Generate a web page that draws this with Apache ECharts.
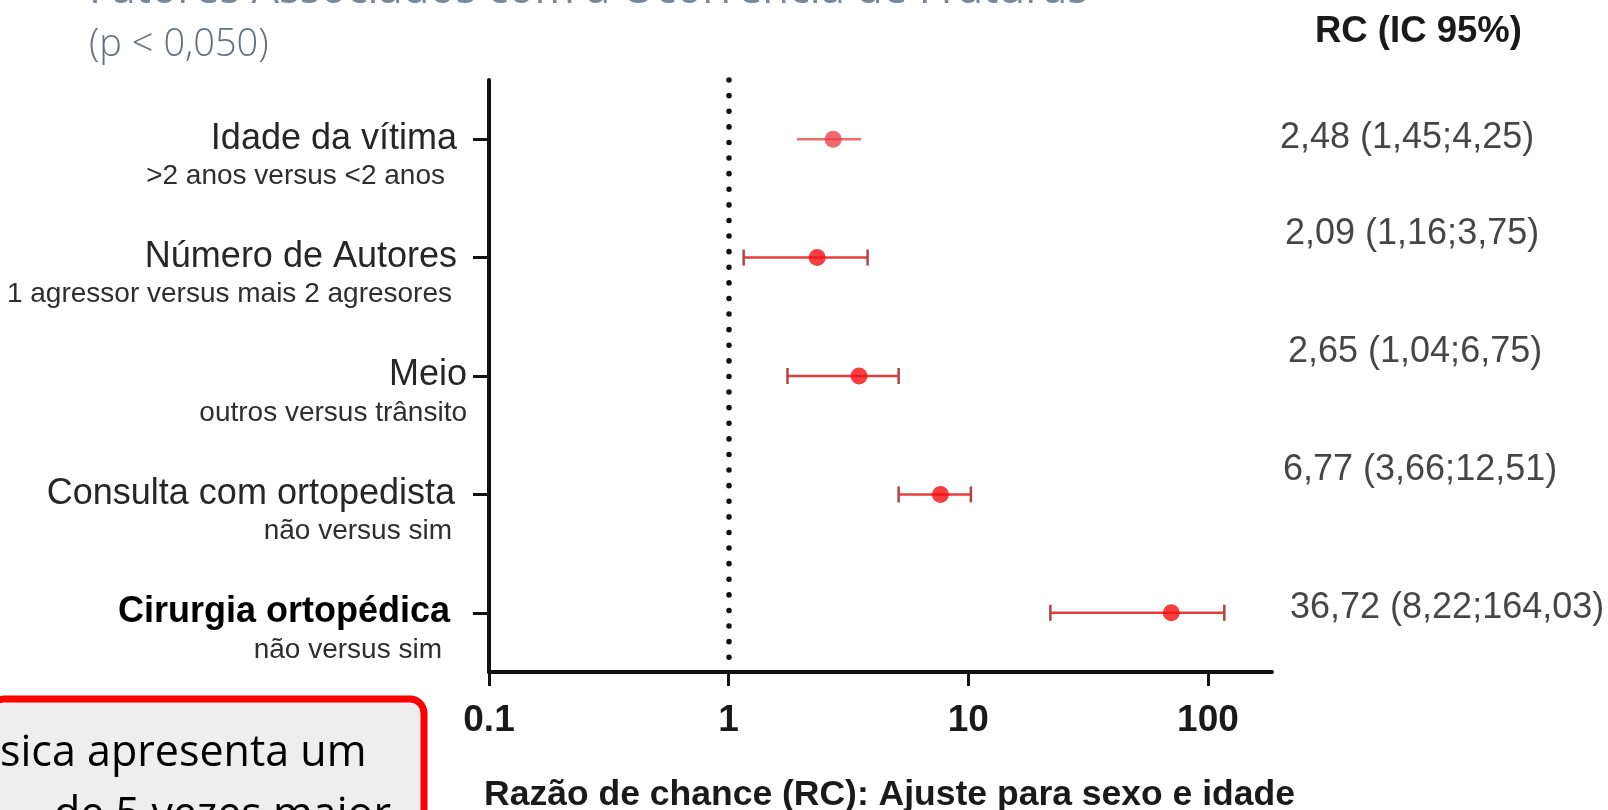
<!DOCTYPE html>
<html>
<head>
<meta charset="utf-8">
<script src="https://cdn.jsdelivr.net/npm/echarts@6/dist/echarts.min.js"></script>
<style>
html,body{margin:0;padding:0;background:#ffffff;}
#chart{width:1608px;height:810px;}
</style>
</head>
<body>
<div id="chart"></div>
<script>
// ---- data ----
const factors = ['Idade da vítima', 'Número de Autores', 'Meio', 'Consulta com ortopedista', 'Cirurgia ortopédica'];
const subLabels = ['>2 anos versus <2 anos', '1 agressor versus mais 2 agresores', 'outros versus trânsito', 'não versus sim', 'não versus sim'];
const oddsRatio = [2.73, 2.34, 3.50, 7.65, 70.3];
const ciLower = [1.93, 1.155, 1.76, 5.12, 22.0];
const ciUpper = [3.57, 3.80, 5.12, 10.25, 117];
const rcLabels = ['2,48 (1,45;4,25)', '2,09 (1,16;3,75)', '2,65 (1,04;6,75)', '6,77 (3,66;12,51)', '36,72 (8,22;164,03)'];
const xTicks = [0.1, 1, 10, 100];
const xMin = 0.1;
const xMax = 185;
const refValue = 1;
const rcHeader = 'RC (IC 95%)';
const xAxisTitle = 'Razão de chance (RC): Ajuste para sexo e idade';
const titleText = 'Fatores Associados com a Ocorrência de Fraturas';
const subtitleText = '(p < 0,050)';
const boxLines = ['sica apresenta um', 'de 5 vezes maior'];

// ---- styles (layout only) ----
const rowStyle = [
  { point: '#ec4449', line: '#ef6b6b', cap: null },
  { point: '#f50f12', line: '#e83c3c', cap: '#b04444' },
  { point: '#f50f12', line: '#e83c3c', cap: '#b04444' },
  { point: '#f50f12', line: '#e83c3c', cap: '#b04444' },
  { point: '#f50f12', line: '#e83c3c', cap: '#b04444' }
];
const mainPad = [10, 10, 0, 12, 17];
const subPad = [22, 15, 0, 15, 25];
const rcOffset = [[3, -1], [8, -24], [11, -24], [6, -24], [13, -5]];
const FONT = '"Liberation Sans", Arial, sans-serif';

const rich = {
  pad: { fontSize: 10, lineHeight: 34, align: 'right' }
};
factors.forEach((f, i) => {
  rich['m' + i] = {
    fontFamily: FONT, fontSize: 36, lineHeight: 40, align: 'right',
    color: i === 4 ? '#000000' : '#262626',
    fontWeight: i === 4 ? 'bold' : 'normal',
    padding: [0, mainPad[i], 0, 0]
  };
  rich['s' + i] = {
    fontFamily: FONT, fontSize: 28, lineHeight: 35, align: 'right',
    color: '#2e2e2e',
    padding: [0, subPad[i], 0, 0]
  };
});

const chart = echarts.init(document.getElementById('chart'), null, { renderer: 'canvas' });

const option = {
  backgroundColor: '#ffffff',
  animation: false,
  grid: { left: 489, right: 336, top: 80, bottom: 138, containLabel: false, outerBoundsMode: 'none' },
  xAxis: {
    type: 'log',
    logBase: 10,
    min: xMin,
    max: xMax,
    splitLine: { show: false },
    minorTick: { show: false },
    axisLine: { show: true, lineStyle: { color: '#111111', width: 4 } },
    axisTick: { show: true, customValues: xTicks, length: 14, lineStyle: { color: '#111111', width: 3 } },
    axisLabel: {
      customValues: xTicks,
      margin: 30,
      fontFamily: FONT, fontSize: 37, fontWeight: 'bold', color: '#1a1a1a',
      formatter: v => (v < 1 ? Number(v).toFixed(1) : String(Math.round(v)))
    },
    name: xAxisTitle,
    nameLocation: 'middle',
    nameGap: 105,
    nameTextStyle: { fontFamily: FONT, fontSize: 35.5, fontWeight: 'bold', color: '#1a1a1a', padding: [0, 0, 0, 18] }
  },
  yAxis: {
    type: 'category',
    data: factors,
    inverse: true,
    boundaryGap: true,
    axisLine: { show: true, lineStyle: { color: '#111111', width: 4 } },
    axisTick: { show: true, alignWithLabel: true, length: 16, lineStyle: { color: '#111111', width: 3 } },
    axisLabel: {
      interval: 0,
      margin: 22,
      formatter: (value, idx) => '{pad| }\n{m' + idx + '|' + value + '}\n{s' + idx + '|' + subLabels[idx] + '}',
      rich: rich
    },
    splitLine: { show: false }
  },
  series: [
    {
      type: 'custom',
      name: 'IC 95%',
      clip: false,
      encode: { x: [1, 2], y: 0 },
      data: factors.map((f, i) => [i, ciLower[i], ciUpper[i]]),
      renderItem: (params, api) => {
        const i = api.value(0);
        const lo = api.coord([api.value(1), i]);
        const hi = api.coord([api.value(2), i]);
        const st = rowStyle[i];
        const children = [{
          type: 'line',
          shape: { x1: lo[0], y1: lo[1], x2: hi[0], y2: hi[1] },
          style: { stroke: st.line, lineWidth: 2.5 }
        }];
        if (st.cap) {
          [lo, hi].forEach(p => {
            children.push({
              type: 'line',
              shape: { x1: p[0], y1: p[1] - 8, x2: p[0], y2: p[1] + 8 },
              style: { stroke: st.cap, lineWidth: 2.5 }
            });
          });
        }
        return { type: 'group', children: children };
      },
      z: 2
    },
    {
      type: 'scatter',
      name: 'RC',
      clip: false,
      symbol: 'circle',
      symbolSize: 17,
      data: factors.map((f, i) => ({ value: [oddsRatio[i], i], itemStyle: { color: rowStyle[i].point } })),
      z: 3,
      markLine: {
        silent: true,
        symbol: 'none',
        label: { show: false },
        lineStyle: { color: '#111111', width: 5.5, type: [0.1, 15.5], cap: 'round' },
        data: [{ xAxis: refValue }]
      }
    },
    {
      type: 'scatter',
      name: 'RC (IC 95%)',
      clip: false,
      symbolSize: 0,
      silent: true,
      data: factors.map((f, i) => ({
        value: [xMax, i],
        label: { offset: rcOffset[i] }
      })),
      label: {
        show: true,
        position: 'right',
        distance: 5,
        fontFamily: FONT, fontSize: 36, color: '#161616',
        formatter: p => rcLabels[p.dataIndex]
      }
    }
  ],
  graphic: [
    {
      type: 'text', left: 89, top: -31,
      style: { text: titleText, font: '43.5px "Open Sans", sans-serif', fill: '#7b8794' }
    },
    {
      type: 'text', left: 89, top: 26,
      style: { text: subtitleText, font: '300 38px "Open Sans", sans-serif', fill: '#63707e' }
    },
    {
      type: 'text', left: 1315, top: 13,
      style: { text: rcHeader, font: 'bold 36.5px "Liberation Sans", Arial, sans-serif', fill: '#1a1a1a' }
    },
    {
      type: 'rect',
      shape: { x: -10, y: 699, width: 434, height: 200, r: 14 },
      style: { fill: '#eeeeee', stroke: '#ff0000', lineWidth: 7 }
    },
    {
      type: 'text', x: 0, y: 732,
      style: { text: boxLines[0], font: '43px "Open Sans", sans-serif', fill: '#000000', verticalAlign: 'top', align: 'left' }
    },
    {
      type: 'text', x: 54, y: 794,
      style: { text: boxLines[1], font: '43px "Open Sans", sans-serif', fill: '#000000', verticalAlign: 'top', align: 'left' }
    }
  ]
};

chart.setOption(option);
</script>
</body>
</html>
